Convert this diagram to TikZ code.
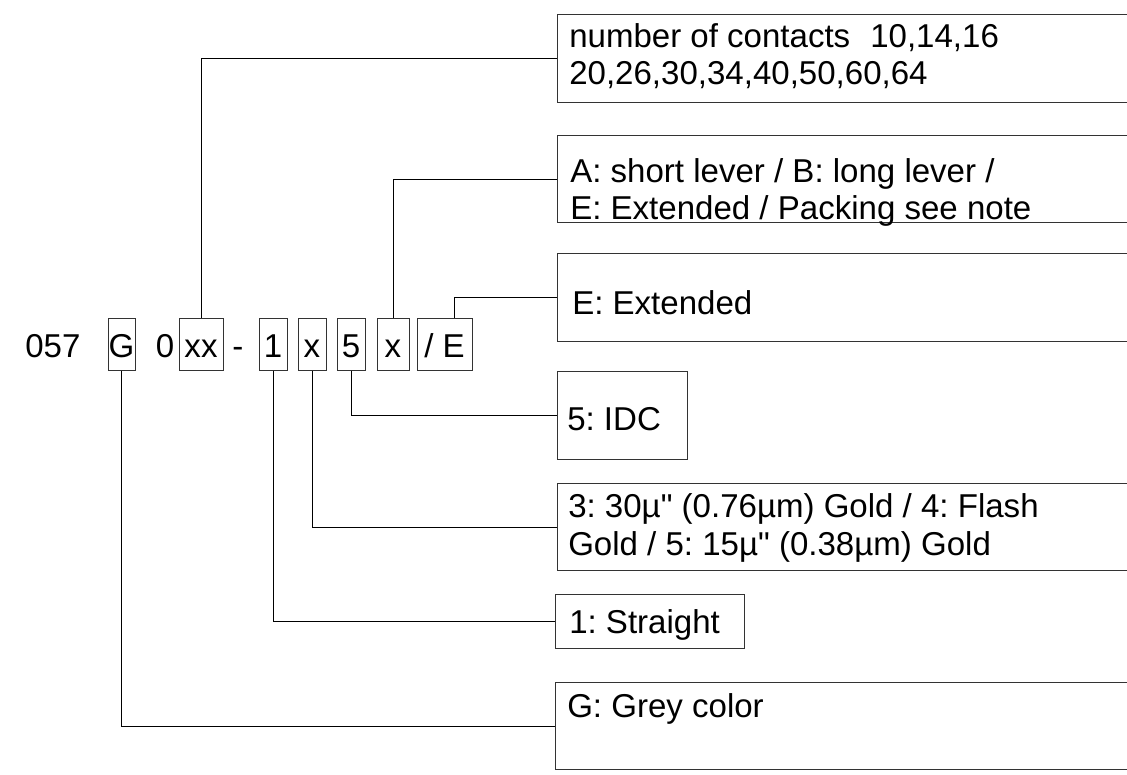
\documentclass[tikz,border=0pt]{standalone}
\usepackage{fontspec}
\setmainfont{Liberation Sans}[Ligatures=TeXOff]
\usetikzlibrary{positioning}
\frenchspacing

\begin{document}
\begin{tikzpicture}[x=0.025cm,y=-0.025cm,every node/.style={font=\fontsize{23.5}{27}\selectfont,inner sep=0pt}]
\tikzset{
  partbox/.style={draw=black!80,line width=0.7pt,minimum height=1.3cm,text height=0.65cm,text depth=0pt},
  descbox/.style={draw=black!80,line width=0.7pt,anchor=north west},
  desctext/.style={anchor=base west,align=left},
  lead/.style={line width=0.6pt}
}
\useasboundingbox (0,0) rectangle (1127,775);
\clip (0,0) rectangle (1127,775);

% part number
\node[anchor=base west] (pre) at (25,357) {057};
\node[partbox,minimum width=0.675cm] (pg) at (121.5,344) {G};
\node[anchor=base] (zero) at (165,357) {0};
\node[partbox,minimum width=1.1cm] (pxx) at (201,344) {xx};
\node[anchor=base] (dash) at (238,357) {-};
\node[partbox,minimum width=0.7cm] (p1) at (273,344) {1};
\node[partbox,minimum width=0.7cm] (px) at (312,344) {x};
\node[partbox,minimum width=0.7cm] (p5) at (351,344) {5};
\node[partbox,minimum width=0.8cm] (pl) at (393,344) {x};
\node[partbox,minimum width=1.375cm] (pe) at (444.5,344) {/ E};

% descriptions (multi-line text sits on its last baseline)
\node[descbox,minimum width=15cm,minimum height=2.2cm] (contacts) at (557,14) {};
\node[desctext] (contactstext) at (569,85) {number of contacts\hspace{0.5cm}10,14,16\\20,26,30,34,40,50,60,64};
\node[descbox,minimum width=15cm,minimum height=2.175cm] (lever) at (557,135) {};
\node[desctext] (levertext) at (570,220) {A: short lever / B: long lever /\\E: Extended / Packing see note};
\node[descbox,minimum width=15cm,minimum height=2.2cm] (extended) at (557,253) {};
\node[desctext] (extendedtext) at (572,314) {E: Extended};
\node[descbox,minimum width=3.25cm,minimum height=2.2cm] (idc) at (557,371) {};
\node[desctext] (idctext) at (567,430) {5: IDC};
\node[descbox,minimum width=15cm,minimum height=2.175cm] (plating) at (557,483) {};
\node[desctext] (platingtext) at (568,555) {3: 30µ" (0.76µm) Gold / 4: Flash\\Gold / 5: 15µ" (0.38µm) Gold};
\node[descbox,minimum width=4.725cm,minimum height=1.35cm] (straight) at (555,594) {};
\node[desctext] (straighttext) at (569,633) {1: Straight};
\node[descbox,minimum width=15cm,minimum height=2.175cm] (colour) at (555,682) {};
\node[desctext] (colourtext) at (567,717) {G: Grey color};

% leads
\foreach \from/\to in {pxx/contacts,pl/lever}
  \draw[lead] (\from.north) |- (\to.west);
\draw[lead] ([xshift=0.25cm]pe.north) |- (extended.west);
\foreach \from/\to in {p5/idc,px/plating,p1/straight,pg/colour}
  \draw[lead] (\from.south) |- (\to.west);
\end{tikzpicture}
\end{document}
